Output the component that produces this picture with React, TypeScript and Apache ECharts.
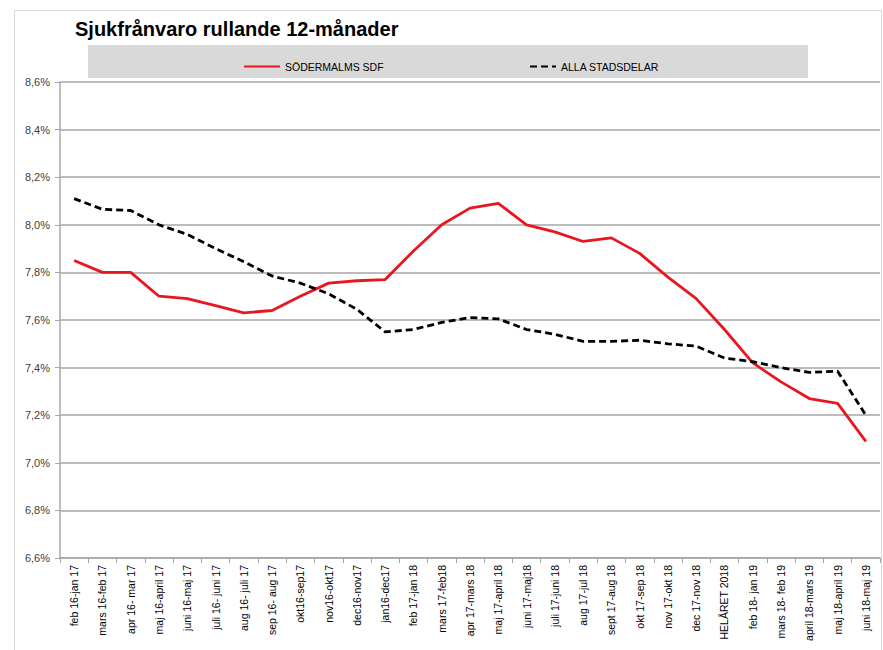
import React, { useEffect, useRef } from "react";
import * as echarts from "echarts";

const categories = [
  "feb 16-jan 17", "mars 16-feb 17", "apr 16- mar 17", "maj 16-april 17", "juni 16-maj 17",
  "juli 16- juni 17", "aug 16- juli 17", "sep 16- aug 17", "okt16-sep17", "nov16-okt17",
  "dec16-nov17", "jan16-dec17", "feb 17-jan 18", "mars 17-feb18", "apr 17-mars 18",
  "maj 17-april 18", "juni 17-maj18", "juli 17-juni 18", "aug 17-jul 18", "sept 17-aug 18",
  "okt 17-sep 18", "nov 17-okt 18", "dec 17-nov 18", "HELÅRET 2018", "feb 18- jan 19",
  "mars 18- feb 19", "april 18-mars 19", "maj 18-april 19", "juni 18-maj 19",
];

const sodermalm = [
  7.85, 7.80, 7.80, 7.70, 7.69, 7.66, 7.63, 7.64, 7.70, 7.755,
  7.765, 7.77, 7.89, 8.0, 8.07, 8.09, 8.0, 7.97, 7.93, 7.945,
  7.88, 7.78, 7.69, 7.56, 7.42, 7.34, 7.27, 7.25, 7.09,
];

const allaStadsdelar = [
  8.11, 8.065, 8.06, 8.0, 7.96, 7.90, 7.845, 7.785, 7.755, 7.71,
  7.645, 7.55, 7.56, 7.59, 7.61, 7.605, 7.56, 7.54, 7.51, 7.51,
  7.515, 7.50, 7.49, 7.44, 7.425, 7.40, 7.38, 7.385, 7.20,
];

const seriesNames = ["SÖDERMALMS SDF", "ALLA STADSDELAR"];
const title = "Sjukfrånvaro rullande 12-månader";

const FONT = "'Liberation Sans Narrow', 'Arial Narrow', 'Liberation Sans', Arial, sans-serif";

export default function App() {
  const ref = useRef<HTMLDivElement>(null);
  useEffect(() => {
    if (!ref.current) return;
    const chart = echarts.init(ref.current, undefined, { renderer: "svg" });
    chart.setOption({
      animation: false,
      backgroundColor: "#ffffff",
      textStyle: { fontFamily: FONT },
      title: {
        text: title,
        left: 70,
        top: 14,
        textStyle: { fontFamily: FONT, fontSize: 20, fontWeight: "bold", color: "#000" },
      },
      graphic: [
        {
          type: "rect",
          z: -10,
          shape: { x: 14.5, y: 10.5, width: 867, height: 640 },
          style: { fill: "none", stroke: "#d9d9d9", lineWidth: 1 },
        },
        {
          type: "rect",
          z: -5,
          shape: { x: 88, y: 45, width: 720, height: 33 },
          style: { fill: "#d9d9d9" },
        },
      ],
      legend: [
        {
          data: [seriesNames[0]],
          left: 238,
          top: 56,
          itemWidth: 36,
          itemHeight: 12,
          itemStyle: { opacity: 0 },
          textStyle: { fontFamily: FONT, fontSize: 10.5, color: "#000" },
        },
        {
          data: [seriesNames[1]],
          left: 524,
          top: 56,
          itemWidth: 26,
          itemHeight: 12,
          itemStyle: { opacity: 0 },
          textStyle: { fontFamily: FONT, fontSize: 10.5, color: "#000" },
        },
      ],
      grid: { left: 60, right: 3, top: 82, bottom: 92, containLabel: false },
      xAxis: {
        type: "category",
        data: categories,
        boundaryGap: true,
        axisLine: { lineStyle: { color: "#a6a6a6", width: 1.5 } },
        axisTick: { show: true, alignWithLabel: false, length: 5, lineStyle: { color: "#a6a6a6" } },
        axisLabel: {
          rotate: 90,
          interval: 0,
          fontSize: 10.5,
          color: "#000",
          fontFamily: FONT,
          margin: 7,
        },
      },
      yAxis: {
        type: "value",
        min: 6.6,
        max: 8.6,
        interval: 0.2,
        axisLine: { show: true, lineStyle: { color: "#a6a6a6", width: 1.5 } },
        axisTick: { show: true, length: 5, lineStyle: { color: "#a6a6a6" } },
        splitLine: { show: true, lineStyle: { color: "#a6a6a6", width: 1.5 } },
        axisLabel: {
          fontSize: 11,
          color: "#404040",
          fontFamily: FONT,
          margin: 10,
          formatter: (v: number) => v.toFixed(1).replace(".", ",") + "%",
        },
      },
      series: [
        {
          name: seriesNames[0],
          type: "line",
          data: sodermalm,
          symbol: "none",
          lineStyle: { color: "#e8171f", width: 2.8 },
          itemStyle: { color: "#e8171f" },
        },
        {
          name: seriesNames[1],
          type: "line",
          data: allaStadsdelar,
          symbol: "none",
          lineStyle: { color: "#000000", width: 2.8, type: [7, 4] },
          itemStyle: { color: "#000000" },
        },
      ],
    });
    return () => chart.dispose();
  }, []);
  return (
    <div
      ref={ref}
      style={{ position: "absolute", left: 0, top: 0, width: 883, height: 650 }}
    />
  );
}
